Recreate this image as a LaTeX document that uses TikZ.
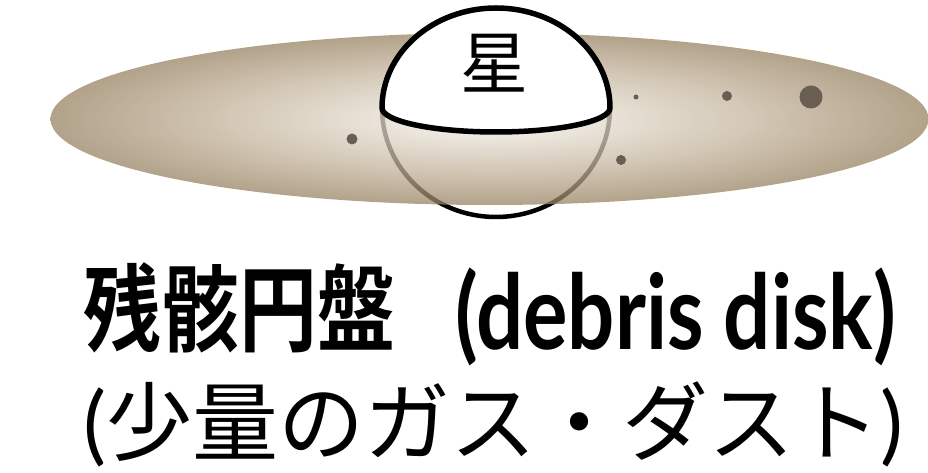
\documentclass[tikz,border=0pt]{standalone}
\usepackage{fontspec}
\setmainfont{Lato}
\newfontfamily\jp{Noto Sans CJK JP}[BoldFont={* Bold}]
\definecolor{diskrim}{RGB}{152,131,99}
\definecolor{diskmid}{RGB}{196,180,156}
\definecolor{diskcore}{RGB}{234,228,218}
\definecolor{graincol}{RGB}{106,94,82}
\pgfdeclareradialshading{diskglow}{\pgfpoint{0bp}{0bp}}{color(0bp)=(diskcore); color(4bp)=(diskcore); color(15bp)=(diskmid); color(25bp)=(diskrim); color(50bp)=(diskrim)}
\newcommand{\grain}[3]{\fill[graincol] ( #1 , #2 ) circle ( #3 pt );}

\begin{document}
\begin{tikzpicture}[x=1pt,y=1pt]
        \useasboundingbox (0,0) rectangle (928,473);

        % far side of the star, seen through the disk
        \draw[line width=4.5pt] (382,365) arc[start angle=180,end angle=360,x radius=114pt,y radius=109pt];

        % disk
        \shade[shading=diskglow,fill opacity=0.75] (489.5,354) ellipse[x radius=439pt,y radius=86pt];

        % dust grains
        \grain{352}{334}{5.5}
        \grain{621}{313}{5}
        \grain{636}{376}{2.5}
        \grain{727}{377}{5}
        \grain{811}{376}{11.5}

        % near side of the star
        \filldraw[fill=white,line width=5.5pt,line join=round] (610,365) arc[start angle=0,end angle=180,x radius=114pt,y radius=100pt] arc[start angle=180,end angle=360,x radius=114pt,y radius=24pt] -- cycle;
        \node (star) at (494,410) {\jp\fontsize{68}{72}\selectfont 星};

        % labels
        \node[anchor=base,inner sep=0pt] (title) at (490,123) {\bfseries\scalebox{0.82}[1]{\raisebox{5pt}{\fontsize{95}{100}\selectfont\jp 残骸円盤}}\hspace{60pt}\scalebox{0.80}[1]{\fontsize{104}{110}\selectfont(debris disk)}};
        \node[anchor=base,inner sep=0pt] (note) at (493,18) {\fontsize{86}{100}\selectfont({\jp 少量のガス・ダスト})};
\end{tikzpicture}
\end{document}
